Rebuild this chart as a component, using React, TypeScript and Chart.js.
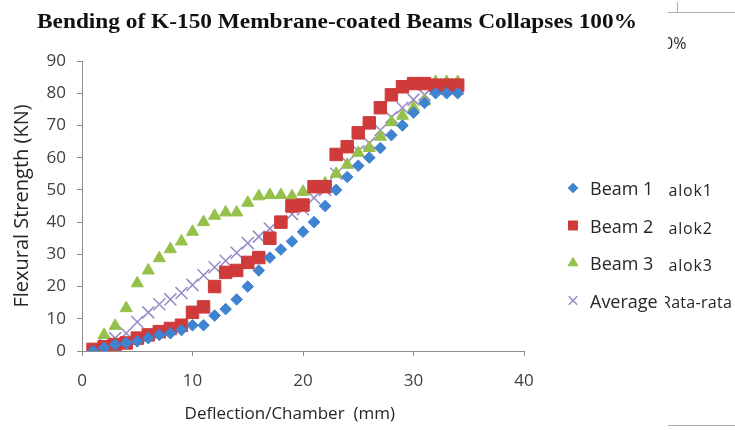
import React, { useEffect, useRef } from 'react';
import { Chart, registerables } from 'chart.js';
import { drawPoint } from 'chart.js/helpers';

Chart.register(...registerables);

const titleText = 'Bending of K-150 Membrane-coated Beams Collapses 100%';
const xTitle = 'Deflection/Chamber  (mm)';
const yTitle = 'Flexural Strength (KN)';

const deflection = [1, 2, 3, 4, 5, 6, 7, 8, 9, 10, 11, 12, 13, 14, 15, 16, 17, 18, 19, 20, 21, 22, 23, 24, 25, 26, 27, 28, 29, 30, 31, 32, 33, 34];
const beam1 = [0, 1, 2, 2.5, 3, 4, 5, 5.5, 6.5, 8, 8, 11, 13, 16, 20, 25, 29, 31.5, 34, 37, 40, 45, 50, 54, 57.5, 60, 63, 67, 70, 74, 77, 80, 80, 80];
const beam2 = [0.5, 1.3, 2, 2.5, 4, 5, 6, 7, 8, 12, 13.7, 20, 24.4, 25, 27.5, 29, 35, 40, 45, 45.3, 51, 51, 61, 63.4, 67.7, 70.8, 75.5, 79.5, 82, 83, 83, 82.5, 82.5, 82.5];
const beam3 = [0, 5, 7.8, 13.3, 21, 25, 28.8, 31.6, 34, 37, 40, 42, 43, 43, 46, 48, 48.4, 48.4, 48, 49.4, 51, 52, 55, 57.8, 61.5, 63, 66.5, 71, 73, 75.5, 77.5, 83.5, 83.5, 83.5];
const average = [0.2, 2.4, 4, 5.5, 9, 12, 14.5, 16, 18, 20.5, 23.5, 26, 28, 30.5, 33.5, 35.5, 38, 40, 42.5, 44, 47.5, 50, 55, 58.5, 62, 64.5, 68.5, 72.5, 75.5, 78, 79.5, 81.5, 81.5, 81.5];

const seriesLabels = ['Beam 1', 'Beam 2', 'Beam 3', 'Average'];
const xTicks = [0, 10, 20, 30, 40];
const yTicks = [0, 10, 20, 30, 40, 50, 60, 70, 80, 90];

const toPoints = (ys: number[]) => ys.map((y, i) => ({ x: deflection[i], y }));

const legendRadius = [4.8, 6.4, 5.6, 6];

const customLegend = {
  id: 'customLegend',
  afterDraw(chart: any) {
    const ctx = chart.ctx as CanvasRenderingContext2D;
    ctx.save();
    chart.data.datasets.forEach((ds: any, i: number) => {
      const y = 188 + i * 37.5;
      ctx.fillStyle = ds.backgroundColor;
      ctx.strokeStyle = ds.borderColor;
      ctx.lineWidth = ds.borderWidth;
      drawPoint(ctx, { pointStyle: ds.pointStyle, radius: legendRadius[i], rotation: 0, borderWidth: ds.borderWidth } as any, 573, y);
      ctx.fillStyle = '#262626';
      ctx.font = '18px "Open Sans"';
      ctx.textBaseline = 'middle';
      ctx.textAlign = 'left';
      ctx.fillText(ds.label, 590, y + 2);
    });
    ctx.restore();
  },
};

const stretchedTitle = {
  id: 'stretchedTitle',
  afterDraw(chart: any) {
    const ctx = chart.ctx as CanvasRenderingContext2D;
    ctx.save();
    ctx.font = 'bold 22px "Liberation Serif"';
    const w = ctx.measureText(titleText).width;
    ctx.translate(337, 28);
    ctx.scale(600 / w, 1);
    ctx.fillStyle = '#111111';
    ctx.textAlign = 'center';
    ctx.textBaseline = 'alphabetic';
    ctx.fillText(titleText, 0, 0);
    ctx.restore();
  },
};

export default function App() {
  const ref = useRef<HTMLCanvasElement | null>(null);

  useEffect(() => {
    if (!ref.current) return;
    const gridCfg = { display: true, drawOnChartArea: false, drawTicks: true, tickLength: 5, color: '#8c8c8c' };
    const tickFont = { family: 'Open Sans', size: 17 };
    const chart = new Chart(ref.current, {
      type: 'scatter',
      data: {
        datasets: [
          { label: seriesLabels[0], data: toPoints(beam1), pointStyle: 'rectRot', pointRadius: 5.8, backgroundColor: '#3f83d1', borderColor: '#3f83d1', borderWidth: 1 },
          { label: seriesLabels[1], data: toPoints(beam2), pointStyle: 'rect', pointRadius: 8.8, backgroundColor: '#cf3a3a', borderColor: '#cf3a3a', borderWidth: 1 },
          { label: seriesLabels[2], data: toPoints(beam3), pointStyle: 'triangle', pointRadius: 7, backgroundColor: '#95c14b', borderColor: '#95c14b', borderWidth: 1 },
          { label: seriesLabels[3], data: toPoints(average), pointStyle: 'crossRot', pointRadius: 8.5, backgroundColor: '#9a8bc9', borderColor: '#9a8bc9', borderWidth: 1.6 },
        ] as any,
      },
      options: {
        animation: false,
        responsive: false,
        layout: { padding: { left: 0, right: 150, top: 61, bottom: 0 } },
        plugins: {
          legend: { display: false },
          tooltip: { enabled: false },
          title: { display: false },
        },
        scales: {
          x: {
            type: 'linear',
            min: 0,
            max: 40,
            afterBuildTicks: (s: any) => { s.ticks = xTicks.map((v) => ({ value: v })); },
            afterFit: (s: any) => { s.height = 79; },
            ticks: { font: tickFont, color: '#404040', padding: 15 },
            grid: gridCfg,
            border: { display: true, color: '#8c8c8c' },
            title: { display: true, text: xTitle + '      ', color: '#262626', font: { family: 'Open Sans', size: 17 }, padding: { top: 0, bottom: 6 } },
          },
          y: {
            type: 'linear',
            min: 0,
            max: 90,
            afterBuildTicks: (s: any) => { s.ticks = yTicks.map((v) => ({ value: v })); },
            afterFit: (s: any) => { s.width = 82; },
            ticks: { font: tickFont, color: '#404040', padding: 11 },
            grid: gridCfg,
            border: { display: true, color: '#8c8c8c' },
            title: { display: true, text: yTitle, color: '#262626', font: { family: 'Open Sans', size: 20 }, padding: { top: 10, bottom: 0 } },
          },
        },
      } as any,
      plugins: [customLegend, stretchedTitle],
    });
    return () => chart.destroy();
  }, []);

  const art: React.CSSProperties = { position: 'absolute', fontFamily: '"Open Sans", sans-serif', fontSize: 16, letterSpacing: 0.8, color: '#262626', whiteSpace: 'nowrap', overflow: 'hidden' };

  return (
    <div style={{ position: 'absolute', left: 0, top: 0, width: 735, height: 430, background: '#ffffff', overflow: 'hidden' }}>
      <canvas ref={ref} width={674} height={430} style={{ display: 'block', position: 'absolute', left: 0, top: 0 }} />
      <div style={{ position: 'absolute', left: 668, top: 12, width: 67, height: 1, background: '#b0b0b0' }} />
      <div style={{ position: 'absolute', left: 677, top: 2, width: 1, height: 10, background: '#b0b0b0' }} />
      <div style={{ position: 'absolute', left: 668, top: 425, width: 67, height: 1, background: '#b0b0b0' }} />
      <div style={{ ...art, left: 668, top: 32, width: 30, height: 24, letterSpacing: 0 }}><span style={{ position: 'relative', left: -4 }}>0%</span></div>
      <div style={{ ...art, left: 667, top: 179, width: 60, height: 24 }}><span style={{ position: 'relative', left: -9 }}>balok1</span></div>
      <div style={{ ...art, left: 667, top: 217, width: 60, height: 24 }}><span style={{ position: 'relative', left: -9 }}>balok2</span></div>
      <div style={{ ...art, left: 667, top: 254, width: 60, height: 24 }}><span style={{ position: 'relative', left: -9 }}>balok3</span></div>
      <div style={{ ...art, left: 665, top: 291, width: 70, height: 24, letterSpacing: 0.3 }}><span style={{ position: 'relative', left: -4 }}>Rata-rata</span></div>
    </div>
  );
}
